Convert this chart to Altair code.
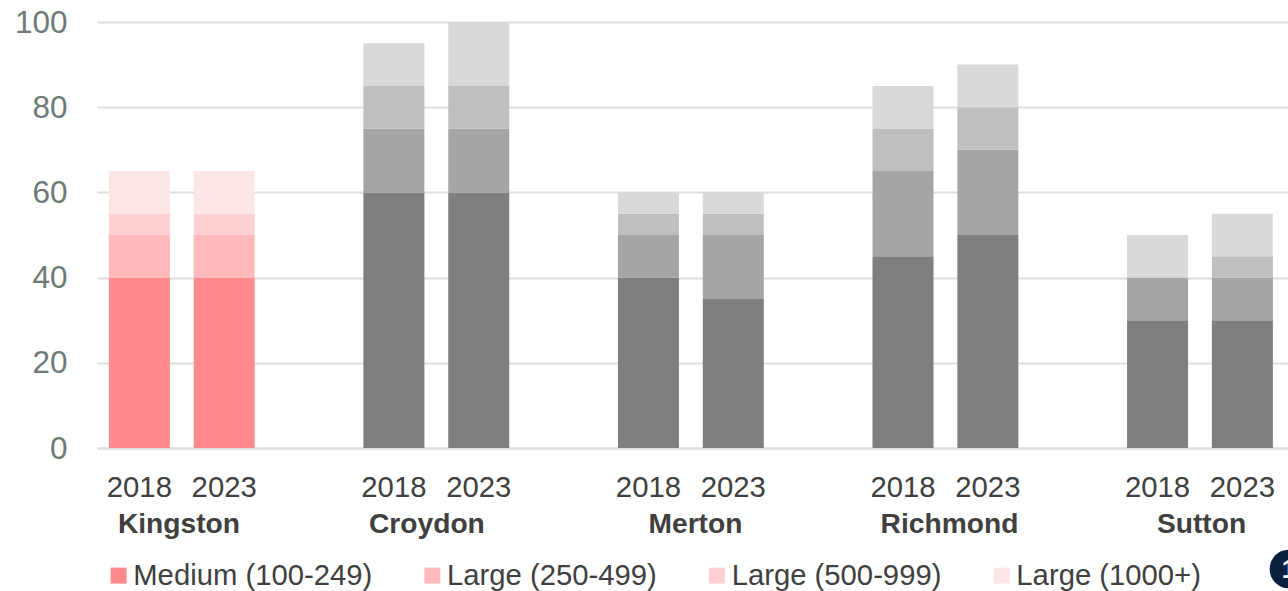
import altair as alt
import pandas as pd

boroughs = ["Kingston", "Croydon", "Merton", "Richmond", "Sutton"]
years = ["2018", "2023"]
bands = ["Medium (100-249)", "Large (250-499)", "Large (500-999)", "Large (1000+)"]

medium = [40, 40, 60, 60, 40, 35, 45, 50, 30, 30]
large_250 = [10, 10, 15, 15, 10, 15, 20, 20, 10, 10]
large_500 = [5, 5, 10, 10, 5, 5, 10, 10, 0, 5]
large_1000 = [10, 10, 10, 15, 5, 5, 10, 10, 10, 10]

pink = ["#FF8A8E", "#FFB9BB", "#FFD0D2", "#FFE6E6"]
grey = ["#7F7F7F", "#A5A5A5", "#BFBFBF", "#D9D9D9"]

# Horizontal nudge of each borough name from the centre of its 2018 bar
name_dx = {"Kingston": 39.6, "Croydon": 33, "Merton": 47, "Richmond": 46.5, "Sutton": 44}

rows = []
series = [medium, large_250, large_500, large_1000]
for b_i, borough in enumerate(boroughs):
    for y_i, year in enumerate(years):
        for s_i, band in enumerate(bands):
            rows.append({
                "borough": borough,
                "slot": f"{borough} {year}",
                "band": band,
                "order": s_i,
                "value": series[s_i][b_i * 2 + y_i],
            })
df = pd.DataFrame(rows)

# Band domain: two bars per borough, then an empty slot as the gap between groups
slots = []
for i, borough in enumerate(boroughs):
    slots += [f"{borough} 2018", f"{borough} 2023"]
    if i < len(boroughs) - 1:
        slots.append(f"gap{i}")
year_ticks = [s for s in slots if not s.startswith("gap")]

font = "Liberation Sans"
x_scale = alt.Scale(domain=slots, paddingInner=0.2835, paddingOuter=0.16, align=0.44)
y_scale = alt.Scale(domain=[0, 100])

x_axis = alt.Axis(
    title=None, values=year_ticks, labelExpr="split(datum.label, ' ')[1]",
    labelAngle=0, labelFont=font, labelFontSize=29.3, labelColor="#404040",
    labelPadding=39, ticks=False, domainColor="#DEDEDE", domainWidth=2, grid=False,
    labelBaseline="middle", labelOverlap=False,
)
y_axis = alt.Axis(
    title=None, values=[0, 20, 40, 60, 80, 100], labelFont=font, labelFontSize=31.5,
    labelColor="#6E7A76", labelPadding=30, labelOffset=1, ticks=False, domain=False,
    gridColor="#DEDEDE", gridWidth=1.8,
)


def stacked(data, colours, legend):
    return alt.Chart(data).mark_bar(size=61).encode(
        x=alt.X("slot:N", scale=x_scale, axis=x_axis),
        y=alt.Y("sum(value):Q", stack="zero", scale=y_scale, axis=y_axis),
        color=alt.Color("band:N", scale=alt.Scale(domain=bands, range=colours), legend=legend),
        order=alt.Order("order:Q"),
    )


legend = alt.Legend(
    title=None, orient="none", legendX=7, legendY=539, direction="horizontal",
    columns=4, gridAlign="none", columnPadding=44.7, symbolType="square", symbolSize=256,
    symbolStrokeWidth=0, labelFont=font, labelFontSize=29.25, labelColor="#404040",
    labelOffset=0, symbolOffset=0, padding=0, labelLimit=400,
)

pink_bars = stacked(df[df.borough == "Kingston"], pink, legend)
grey_bars = stacked(df[df.borough != "Kingston"], grey, None)

names = []
for borough in boroughs:
    names.append(
        alt.Chart(pd.DataFrame({"slot": [f"{borough} 2018"], "name": [borough]}))
        .mark_text(font=font, fontSize=28.2, fontWeight="bold", color="#404040",
                   dx=name_dx[borough], baseline="middle")
        .encode(x=alt.X("slot:N", scale=x_scale, axis=x_axis), y=alt.value(503), text="name:N")
    )

badge_df = pd.DataFrame({"mark": ["1"]})
badge_circle = alt.Chart(badge_df).mark_point(
    filled=True, shape="circle", size=1500, color="#0B1F3F", opacity=1
).encode(x=alt.value(1192), y=alt.value(547))
badge_text = alt.Chart(badge_df).mark_text(
    font=font, fontSize=26, fontWeight="bold", color="#FFFFFF", baseline="middle"
).encode(x=alt.value(1192), y=alt.value(548), text="mark:N")

chart = alt.layer(pink_bars, grey_bars, *names, badge_circle, badge_text).resolve_scale(
    color="independent"
).properties(
    width=1191, height=426,
    padding={"left": 97, "top": 22, "right": 0, "bottom": 143},
    autosize=alt.AutoSizeParams(type="none"),
).configure_view(stroke=None)

chart.save("out.html", embed_options={"renderer": "svg", "actions": False})
